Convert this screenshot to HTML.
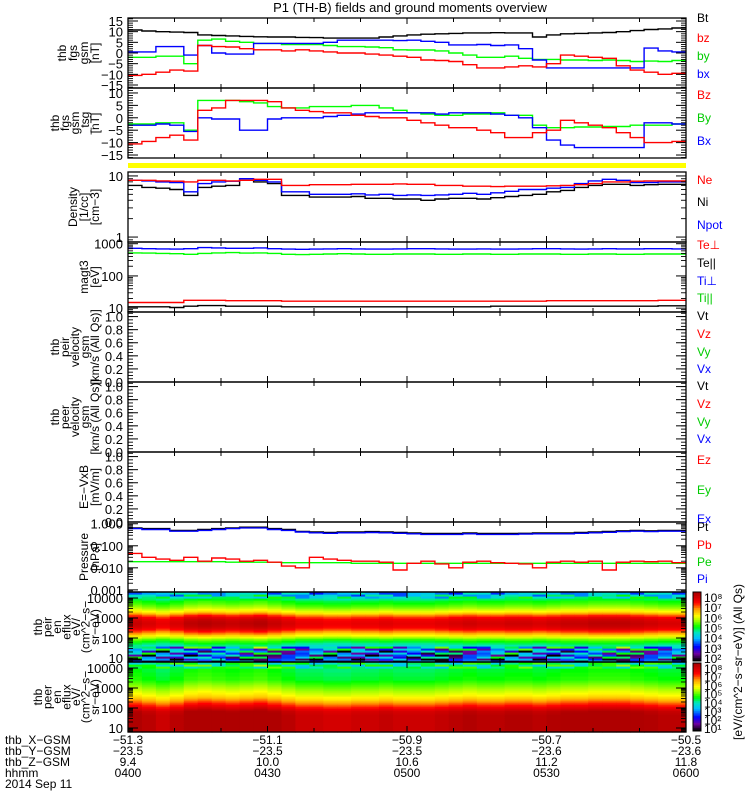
<!DOCTYPE html>
<html><head><meta charset="utf-8"><title>THEMIS P1 overview</title>
<style>
html,body{margin:0;padding:0;background:#fff;}
svg{display:block;font-family:"Liberation Sans",sans-serif;}
text{fill:#000;font-size:11px;}
</style></head>
<body>
<svg id="chart" width="750" height="800" viewBox="0 0 750 800" xmlns="http://www.w3.org/2000/svg">
<text x="410" y="12" text-anchor="middle" style="font-size:13px">P1 (TH-B) fields and ground moments overview</text>
<g id="g"></g>
</svg>
<script>
// ---- data (40 samples, 3-minute steps from 04:00 to 06:00) ----
const minutesPerSample = 3;
const fgsBt = [10.8,10.3,10,9.8,9.6,8.5,8.2,8,7.8,7.6,7.5,7.5,7.3,7.2,7,7,7,7,7.5,8,8.5,8.8,9,9.2,9.4,9.4,9.5,9.4,9.4,7.5,8.5,9,9.2,9.4,9.6,10,10.5,11,11.3,11.7];
const fgsBz = [-10.5,-10,-9,-8,-8.5,3.5,3,2.8,2,1.5,1.5,1,1.5,1,0.5,0,0,-0.5,-1,-1.5,-2,-3.3,-3.5,-4,-5.5,-7,-7,-6.5,-6,-6.5,-5,-1,-1.5,-2,-2.5,-6,-8,-9,-10,-9.5];
const fgsBy = [-2,-2,-1.5,-1.5,-5,6,6.5,5.5,5,4.5,4.5,4,4,4,3.5,3,3,2.8,2.5,1.5,1.4,1.4,1,0,-1,-2,-2,-1.5,-2.5,-3,-3,-3.3,-3.3,-3.5,-3.3,-3.5,-4,-3.8,-4,-3.5];
const fgsBx = [0.5,0.5,3,3,-1,3.5,0,-0.5,-0.5,4.5,4.5,4.5,4.5,4.5,5,6,6,6,6,5.8,6,5.5,5,3.8,3.8,4,3.5,3.8,2,-3.3,-7,-7,-7,-7,-7,-7,-7,2.3,1,0.5];
const tsgBz = [-10.5,-9.5,-8,-7,-9,3,4,7,7,7,6.5,4,3,2.5,2,2,1,0.5,0,0,-1,-2,-3,-4,-4,-5,-6,-8,-8,-6,-5,-1,-2,-3,-4,-6,-8,-10,-10,-9.5];
const tsgBy = [-2.5,-2.5,-2,-2,-5,7,7,7,6.5,6,4.5,4,4,4.5,4.5,4.5,5,5,4,3,2,1.5,1,1,1.5,1.5,2,1,1,-3,-4,-4,-3.7,-3.7,-3.5,-3.5,-3,-3,-3,-2.5];
const tsgBx = [-3,-3,-2.5,-3,-5.5,0,-0.5,-0.5,-5,-5,-0.5,0,0,0,0.5,1,1.5,2,2,2,2,2,1.5,2,2,2,1.5,1,0,-4,-9,-11,-12,-12,-12,-12,-12,-2,-2,-2.5];
const densNe = [8.5,8.5,8.3,8.2,8,8.5,8.5,8.3,8.5,8.8,8.8,7,7,7.2,7.2,7.2,7.3,7.3,7.3,7.4,7.3,7.3,7,7,6.8,6.8,6.7,6.8,6.8,6.8,6.9,7,7.2,7.5,8,8,8.2,8.3,8.3,8.3];
const densNi = [7,6.5,6.3,6,4.8,6.5,6.8,7,8.5,8,7.5,4.8,4.8,4.5,4.5,4.5,4.6,4.3,4.3,4.2,4.2,4.0,4.2,4.3,4.3,4.2,4.4,4.6,4.8,5,5.5,5.8,6.5,7,7.3,7.3,7,7.2,7.3,7.3];
const densNpot = [8.5,8.3,8,7.8,5.5,7.5,8,8.2,9,8.5,8,5.5,5.5,5,5,5,5.1,4.9,5,4.8,4.9,4.8,4.9,5,5.2,5,5.3,5.6,6,6,6.3,6.5,7.5,8.3,8.8,8.5,7.8,7.8,8,8];
const tempTiPerp = [720,700,690,680,700,760,740,720,720,740,700,680,670,680,690,700,690,680,680,690,700,700,690,680,680,690,680,680,690,700,700,690,680,690,700,690,690,700,700,690];
const tempTiPar = [520,510,500,490,470,500,520,530,510,520,500,470,460,470,480,490,480,470,470,480,480,480,470,470,480,480,470,470,480,480,480,470,470,480,480,470,470,480,480,480];
const tempTePerp = [15,15,15,15,17.5,17.5,17.5,17,17,17,17,16.5,16.5,16.5,16.5,16.5,16.5,16.5,16.5,16.5,16.5,16.5,16.5,16.5,16.5,16.5,16.5,16.5,16.5,16.5,17,17,17,17,17,17,17,17,17.5,17.5];
const tempTePar = [11,11,11,10.5,11.5,12,12,11.5,11.5,11.5,11.5,11,11,11,11,11,11,11,11,11,11,11,11,11,11,11,11.5,11.5,11.5,11.5,11.5,11.5,11.5,11.5,11.5,11.5,11.5,11.5,11.8,11.8];
const presPt = [0.65,0.6,0.6,0.5,0.5,0.55,0.6,0.65,0.7,0.7,0.6,0.55,0.45,0.42,0.4,0.42,0.42,0.44,0.42,0.4,0.38,0.36,0.36,0.36,0.38,0.36,0.36,0.36,0.37,0.38,0.38,0.38,0.4,0.42,0.45,0.48,0.5,0.48,0.5,0.5];
const presPi = [0.6,0.55,0.55,0.46,0.46,0.5,0.55,0.6,0.65,0.65,0.55,0.5,0.42,0.39,0.37,0.39,0.39,0.4,0.39,0.37,0.35,0.33,0.33,0.33,0.35,0.33,0.33,0.33,0.34,0.35,0.35,0.35,0.37,0.39,0.41,0.44,0.46,0.44,0.46,0.46];
const presPb = [0.045,0.03,0.025,0.022,0.03,0.02,0.028,0.025,0.02,0.022,0.018,0.012,0.01,0.03,0.025,0.022,0.02,0.02,0.018,0.008,0.016,0.02,0.015,0.01,0.018,0.02,0.017,0.016,0.015,0.01,0.018,0.02,0.018,0.02,0.008,0.018,0.02,0.019,0.02,0.017];
const presPe = [0.019,0.019,0.019,0.019,0.019,0.019,0.019,0.018,0.018,0.018,0.018,0.017,0.017,0.017,0.017,0.017,0.016,0.016,0.016,0.016,0.016,0.016,0.016,0.016,0.016,0.016,0.016,0.016,0.016,0.016,0.016,0.016,0.016,0.016,0.016,0.016,0.016,0.016,0.016,0.016];
// spectrogram: per-energy-row colour level (0..1), rows from 6 eV upward in 0.1-decade steps
const ionRowLevel = [0.22,0.18,0.3,0.2,0.32,0.25,0.35,0.38,0.42,0.46,0.5,0.55,0.62,0.68,0.74,0.8,0.86,0.9,0.92,0.93,0.92,0.9,0.86,0.8,0.72,0.66,0.62,0.58,0.55,0.52,0.5,0.46,0.42,0.38,0.34];
const eleRowLevel = [0.98,0.98,0.98,0.98,0.98,0.98,0.98,0.98,0.98,0.97,0.96,0.92,0.88,0.84,0.8,0.76,0.72,0.69,0.66,0.64,0.62,0.6,0.58,0.56,0.54,0.52,0.5,0.5,0.49,0.49,0.48,0.48,0.47,0.47,0.46];
const specTimeMod = [0.02,0.0,-0.02,0.0,0.03,0.04,0.03,0.02,0.03,0.04,0.02,0.0,-0.02,-0.02,-0.03,-0.03,-0.02,-0.02,-0.01,-0.02,-0.02,-0.02,-0.01,0,0.01,0,0,0.01,0.01,0,0.01,0.02,0.02,0.03,0.03,0.03,0.02,0.01,0,0];
const specNoise = [0.0,-0.12,0.06,-0.2,0.1,-0.05,0.15,-0.15,0.03,-0.08,0.12,-0.18,0.05];
const tickLabelsTime = ["0400","0430","0500","0530","0600"];
const posX = ["-51.3","-51.1","-50.9","-50.7","-50.5"];
const posY = ["-23.5","-23.5","-23.5","-23.6","-23.6"];
const posZ = ["9.4","10.0","10.6","11.2","11.8"];

// ---- layout ----
const NS="http://www.w3.org/2000/svg";
const G=document.getElementById('g');
const X0=128,X1=686;
const xs=m=>X0+m/120*(X1-X0);
function mk(tag,attrs,parent){const e=document.createElementNS(NS,tag);for(const k in attrs)e.setAttribute(k,attrs[k]);(parent||G).appendChild(e);return e;}
function txt(s,x,y,attrs){const e=mk('text',Object.assign({x:x,y:y},attrs||{}));e.textContent=s;return e;}
function yLin(p,v){return p.bot-(v-p.lo)/(p.hi-p.lo)*(p.bot-p.top);}
function yLog(p,v){return p.bot-(Math.log10(v)-Math.log10(p.lo))/(Math.log10(p.hi)-Math.log10(p.lo))*(p.bot-p.top);}
function yv(p,v){return p.log?yLog(p,v):yLin(p,v);}
function clampY(p,y){return Math.max(p.top,Math.min(p.bot,y));}
function stepLine(p,data,color,name){
  let d='';
  data.forEach((v,i)=>{const y=clampY(p,yv(p,v)).toFixed(1);const xa=xs(i*minutesPerSample).toFixed(1),xb=xs((i+1)*minutesPerSample).toFixed(1);d+=(i?'L':'M')+xa+','+y+'L'+xb+','+y;});
  const e=mk('path',{d:d,fill:'none',stroke:color,'stroke-width':1.4});
  
  
}
const P=[
 {top:18,bot:88,lo:-16.4,hi:16.4,name:'fgs-gsm-panel',ticks:[15,10,5,0,-5,-10,-15],minor:1},
 {top:88,bot:158,lo:-16.2,hi:12,name:'fgs-tsg-panel',ticks:[10,5,0,-5,-10,-15],minor:1},
 {top:172,bot:242,lo:0.83,hi:11.6,log:true,name:'density-panel',ticks:[10,1]},
 {top:242,bot:312,lo:7.6,hi:1130,log:true,name:'temperature-panel',ticks:[1000,100,10]},
 {top:312,bot:382,lo:0,hi:1.07,name:'ion-velocity-panel',ticks:[1,0.8,0.6,0.4,0.2,0],minor:0.05,fmt:1},
 {top:382,bot:452,lo:0,hi:1.07,name:'electron-velocity-panel',ticks:[1,0.8,0.6,0.4,0.2,0],minor:0.05,fmt:1},
 {top:452,bot:522,lo:0,hi:1.07,name:'efield-panel',ticks:[1,0.8,0.6,0.4,0.2,0],minor:0.05,fmt:1},
 {top:522,bot:592,lo:0.0008,hi:1.2,log:true,name:'pressure-panel',ticks:[1,0.1,0.01,0.001],fmt:3},
 {top:592,bot:662,lo:6.3,hi:20000,log:true,name:'ion-spectrogram-panel',ticks:[10000,1000,100,10],spec:true},
 {top:662,bot:732,lo:6.3,hi:20000,log:true,name:'electron-spectrogram-panel',ticks:[10000,1000,100,10],spec:true}
];

// yellow bar (flag) between panels 2 and 3
const yb=mk('rect',{x:X0,y:163,width:X1-X0,height:5,fill:'#ffff00'});



// spectrograms
const cmapStops=[[0,[0,0,0]],[0.1,[110,0,160]],[0.2,[0,0,255]],[0.33,[0,190,255]],[0.42,[0,230,190]],[0.5,[0,255,0]],[0.6,[170,255,0]],[0.66,[255,255,0]],[0.76,[255,160,0]],[0.86,[255,0,0]],[1,[175,0,0]]];
function cmap(v){v=Math.max(0,Math.min(1,v));for(let i=1;i<cmapStops.length;i++){const[a,ca]=cmapStops[i-1],[b,cb]=cmapStops[i];if(v<=b){const t=(v-a)/(b-a);return 'rgb('+ca.map((c,k)=>Math.round(c+(cb[k]-c)*t)).join(',')+')';}}return 'rgb(175,0,0)';}
function spectro(p,rows,noisyRows,name){
  const g=mk('g',{});
  
  
  const nr=rows.length,rh=(p.bot-p.top)/nr;
  for(let c=0;c<specTimeMod.length;c++){
    for(let r=0;r<nr;r++){
      let v=rows[r]+specTimeMod[c]*(rows[r]>0.7?1.5:1);
      if(r<noisyRows||r>=nr-3) v+=specNoise[(c*7+r*3)%specNoise.length]*(r<noisyRows?1.3:0.6);
      mk('rect',{x:xs(c*minutesPerSample).toFixed(1),y:(p.bot-(r+1)*rh).toFixed(1),width:(xs(minutesPerSample)-X0+0.6).toFixed(1),height:(rh+0.6).toFixed(1),fill:cmap(v)},g);
    }
  }
}
spectro(P[8],ionRowLevel,8,'ion-energy-spectrogram');
spectro(P[9],eleRowLevel,0,'electron-energy-spectrogram');

// series
stepLine(P[0],fgsBt,'#000','line-bt');
stepLine(P[0],fgsBy,'#00ff00','line-by');
stepLine(P[0],fgsBx,'#0000ff','line-bx');
stepLine(P[0],fgsBz,'#ff0000','line-bz');
stepLine(P[1],tsgBy,'#00ff00','line-tsg-by');
stepLine(P[1],tsgBx,'#0000ff','line-tsg-bx');
stepLine(P[1],tsgBz,'#ff0000','line-tsg-bz');
stepLine(P[2],densNi,'#000','line-ni');
stepLine(P[2],densNpot,'#0000ff','line-npot');
stepLine(P[2],densNe,'#ff0000','line-ne');
stepLine(P[3],tempTiPerp,'#0000ff','line-ti-perp');
stepLine(P[3],tempTiPar,'#00ff00','line-ti-par');
stepLine(P[3],tempTePerp,'#ff0000','line-te-perp');
stepLine(P[3],tempTePar,'#000','line-te-par');
stepLine(P[7],presPt,'#000','line-pt');
stepLine(P[7],presPi,'#0000ff','line-pi');
stepLine(P[7],presPe,'#00ff00','line-pe');
stepLine(P[7],presPb,'#ff0000','line-pb');

// axes, ticks
P.forEach((p,pi)=>{
  const ax=mk('g',{});
  
  
  mk('rect',{x:X0,y:p.top,width:X1-X0,height:p.bot-p.top,fill:'none',stroke:'#000','stroke-width':1.3},ax);
  // time ticks every 10 min
  for(let m=10;m<120;m+=10){const L=(m%30===0)?6:4;mk('line',{x1:xs(m),x2:xs(m),y1:p.bot,y2:p.bot-L,stroke:'#000'},ax);mk('line',{x1:xs(m),x2:xs(m),y1:p.top,y2:p.top+L,stroke:'#000'},ax);}
  // y ticks
  let majors=p.ticks,minors=[];
  if(p.log){const a=Math.floor(Math.log10(p.lo)),b=Math.ceil(Math.log10(p.hi));for(let e=a;e<=b;e++)for(let k=2;k<10;k++){const v=k*Math.pow(10,e);if(v>p.lo&&v<p.hi)minors.push(v);}}
  else{for(let v=Math.ceil(p.lo/p.minor)*p.minor;v<=p.hi;v+=p.minor)minors.push(v);}
  minors.forEach(v=>{const y=yv(p,v);[[X0,X0+5],[X1,X1-5]].forEach(([a,b])=>mk('line',{x1:a,x2:b,y1:y,y2:y,stroke:'#000','stroke-width':0.9},ax));});
  majors.forEach(v=>{const y=yv(p,v);if(y<p.top-1||y>p.bot+1)return;[[X0,X0+10],[X1,X1-10]].forEach(([a,b])=>mk('line',{x1:a,x2:b,y1:y,y2:y,stroke:'#000'},ax));
    const s=p.fmt===1?v.toFixed(1):p.fmt===3?v.toFixed(3):String(v);
    const t=txt(s.replace('-','\u2212'),123,y+5,{'text-anchor':'end',style:'font-size:13px'});
    
    
  });
});

// left panel titles
const leftTitles=[
 ['thb','fgs','gsm','[nT]'],['thb','fgs','gsm','_tsg','[nT]'],['Density','[1/cc]','[cm\u22123]'],['magt3','[eV]'],
 ['thb','peir','velocity','gsm','[km/s (All Qs)]'],['thb','peer','velocity','gsm','[km/s (All Qs)]'],['E=\u2212VxB','[mV/m]'],['Pressure','[nPa]'],
 ['thb','peir','en','eflux','eV/','(cm^2\u2212s\u2212','sr\u2212eV)'],['thb','peer','en','eflux','eV/','(cm^2\u2212s\u2212','sr\u2212eV)']];
leftTitles.forEach((lines,pi)=>{const p=P[pi];const cy=(p.top+p.bot)/2;const n=lines.length;const sp=n>5?9.5:n>4?10:11;
  lines.forEach((s,k)=>{const x=99-(n-1-k)*sp;const t=txt(s,x,cy,{'text-anchor':'middle',transform:'rotate(-90 '+x+' '+cy+')',style:'font-size:12px'});
    
    });});

// right legends
const legends=[
 ['Bt','#000',22],['bz','#f00',42],['by','#0c0',60],['bx','#00f',78],
 ['Bz','#f00',99],['By','#0c0',122],['Bx','#00f',145],
 ['Ne','#f00',184],['Ni','#000',206],['Npot','#00f',229],
 ['Te\u22a5','#f00',249],['Te||','#000',267],['Ti\u22a5','#00f',285],['Ti||','#0c0',302],
 ['Vt','#000',320],['Vz','#f00',338],['Vy','#0c0',356],['Vx','#00f',373],
 ['Vt','#000',390],['Vz','#f00',408],['Vy','#0c0',426],['Vx','#00f',443],
 ['Ez','#f00',464],['Ey','#0c0',494],['Ex','#00f',523],
 ['Pt','#000',531],['Pb','#f00',549],['Pe','#0c0',566],['Pi','#00f',583]];
legends.forEach(([s,c,y])=>{const t=txt(s,697,y,{style:'font-size:12px;fill:'+c});
  
  });

// colour bars
[[592,661,['10\u2078','10\u2077','10\u2076','10\u2075','10\u2074','10\u00b3','10\u00b2']],[663,731,['10\u2078','10\u2077','10\u2076','10\u2075','10\u2074','10\u00b3','10\u00b2','10\u00b9']]].forEach(([t0,t1,labs],k)=>{
  const n=40,h=(t1-t0)/n;
  const g=mk('g',{});
  
  
  for(let i=0;i<n;i++)mk('rect',{x:693,y:(t1-(i+1)*h).toFixed(1),width:8,height:(h+0.5).toFixed(1),fill:cmap(i/(n-1))},g);
  mk('rect',{x:693,y:t0,width:8,height:t1-t0,fill:'none',stroke:'#000'},g);
  labs.forEach((s,i)=>{const y=t0+6+i*(t1-t0-8)/(labs.length-1);txt(s,704,y+4,{style:'font-size:12px'},g);});
});
const cbl=txt('[eV/(cm^2\u2212s\u2212sr\u2212eV)] (All Qs)',742,662,{'text-anchor':'middle',transform:'rotate(-90 742 662)',style:'font-size:12px'});



// bottom axis annotation
const rowsY=[744,755,766,777];
['thb_X\u2212GSM','thb_Y\u2212GSM','thb_Z\u2212GSM','hhmm'].forEach((s,i)=>{const t=txt(s,5,rowsY[i],{style:'font-size:12px'});
  
  });
const dl=txt('2014 Sep 11',5,788,{style:'font-size:12px'});


tickLabelsTime.forEach((s,i)=>{const x=xs(i*30);
  [posX[i],posY[i],posZ[i],s].forEach((v,r)=>{const t=txt(v.replace('-','\u2212'),x,rowsY[r],{'text-anchor':'middle',style:'font-size:12px'});
    
    });});
</script>
</body></html>
